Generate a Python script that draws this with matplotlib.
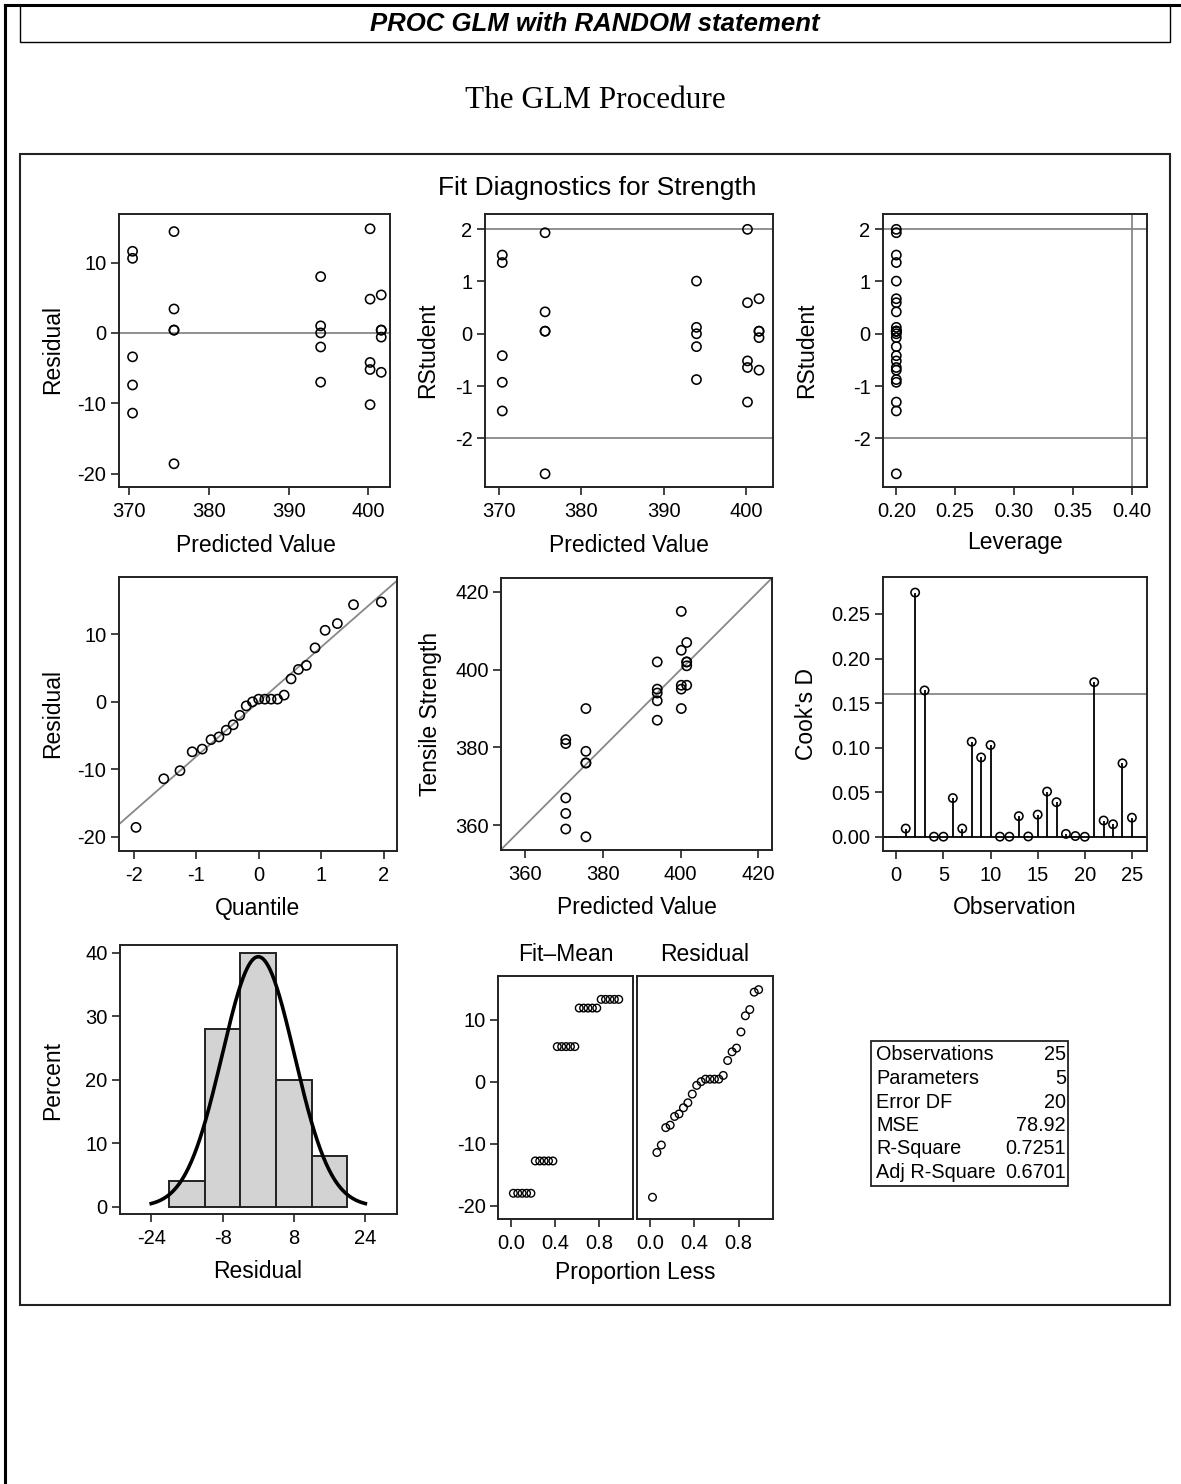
import numpy as np
import matplotlib
matplotlib.use("Agg")
import matplotlib.pyplot as plt
from matplotlib.patches import Rectangle
from matplotlib.lines import Line2D

plt.rcParams['font.family'] = ['Liberation Sans', 'DejaVu Sans']
plt.rcParams['axes.unicode_minus'] = False

# ---------------- data (observation order) ----------------
observation = list(range(1, 26))
strength = [379, 357, 390, 376, 376, 363, 367, 382, 381, 359,
            402, 402, 407, 401, 396, 402, 387, 392, 395, 394,
            415, 405, 396, 390, 395]
predicted = [375.6] * 5 + [370.4] * 5 + [401.6] * 5 + [394.0] * 5 + [400.2] * 5
residual = [3.4, -18.6, 14.4, 0.4, 0.4, -7.4, -3.4, 11.6, 10.6, -11.4,
            0.4, 0.4, 5.4, -0.6, -5.6, 8.0, -7.0, -2.0, 1.0, 0.0,
            14.8, 4.8, -4.2, -10.2, -5.2]
rstudent = [0.419, -2.678, 1.932, 0.049, 0.049, -0.928, -0.419, 1.505, 1.362, -1.476,
            0.049, 0.049, 0.670, -0.074, -0.696, 1.007, -0.876, -0.246, 0.123, 0.0,
            1.997, 0.594, -0.519, -1.306, -0.645]
leverage = [0.2] * 25
cooks_d = [0.0092, 0.2740, 0.1642, 0.0001, 0.0001, 0.0434, 0.0092, 0.1066, 0.0890, 0.1029,
           0.0001, 0.0001, 0.0231, 0.0003, 0.0248, 0.0507, 0.0388, 0.0032, 0.0008, 0.0,
           0.1735, 0.0182, 0.0140, 0.0824, 0.0214]
# normal quantiles (Blom) for the sorted residuals
quantile = [-1.964, -1.519, -1.260, -1.064, -0.903, -0.763, -0.636, -0.519, -0.408,
            -0.302, -0.199, -0.099, 0.0, 0.099, 0.199, 0.302, 0.408, 0.519, 0.636,
            0.763, 0.903, 1.064, 1.260, 1.519, 1.964]
proportion_less = [0.02, 0.06, 0.10, 0.14, 0.18, 0.22, 0.26, 0.30, 0.34, 0.38, 0.42, 0.46,
                   0.50, 0.54, 0.58, 0.62, 0.66, 0.70, 0.74, 0.78, 0.82, 0.86, 0.90, 0.94, 0.98]
hist_centers = [-16, -8, 0, 8, 16]
hist_percent = [4, 28, 40, 20, 8]
hist_binwidth = 8
stat_labels = ["Observations", "Parameters", "Error DF", "MSE", "R-Square", "Adj R-Square"]
stat_values = ["25", "5", "20", "78.92", "0.7251", "0.6701"]
rstudent_limit = 2.0
leverage_limit = 0.4
cooks_limit = 0.16

# ---------------- figure ----------------
W, H = 1181, 1484
fig = plt.figure(figsize=(W / 100, H / 100), dpi=100)
fig.patch.set_facecolor('white')

TICK_FS = 14.5
LABEL_FS = 16.5
GRAY = '#888888'


def fx(x):
    return x / W


def fy(y):
    return 1 - y / H


def add_ax(l, t, r, b):
    ax = fig.add_axes([fx(l), fy(b), (r - l) / W, (b - t) / H])
    for s in ax.spines.values():
        s.set_linewidth(1.4)
        s.set_color('#222222')
    ax.tick_params(direction='out', length=6, width=1.2, labelsize=TICK_FS,
                   colors='#222222', labelcolor='black')
    ax.tick_params(axis='x', pad=5)
    ax.tick_params(axis='y', pad=3)
    return ax


def ftext(x, y, s, **kw):
    kw.setdefault('ha', 'center')
    kw.setdefault('va', 'center')
    fig.text(fx(x), fy(y), s, **kw)


def circles(ax, x, y, s=44, lw=1.15):
    ax.scatter(x, y, s=s, facecolors='none', edgecolors='black', linewidths=lw, zorder=3,
               clip_on=False)


# page frame overlay
bg = fig.add_axes([0, 0, 1, 1])
bg.set_xlim(0, W)
bg.set_ylim(H, 0)
bg.axis('off')
bg.add_line(Line2D([5, W], [5, 5], color='black', lw=2.2))
bg.add_line(Line2D([5, 5], [5, H], color='black', lw=2.2))
bg.add_patch(Rectangle((19.5, 5), 1150.5, 37, fill=False, ec='black', lw=1.0))
bg.add_patch(Rectangle((19.5, 153.5), 1150, 1151.5, fill=False, ec='#222222', lw=1.5))

ftext(595, 24, "PROC GLM with RANDOM statement", fontsize=18.5, fontweight='bold',
      fontstyle='italic')
ftext(595, 100, "The GLM Procedure", fontsize=22.5,
      family=['Liberation Serif', 'DejaVu Serif'])
ftext(597, 188, "Fit Diagnostics for Strength", fontsize=19)

# ---- Row 1, panel 1: residual vs predicted
ax = add_ax(119, 214, 390, 487)
ax.axhline(0, color=GRAY, lw=1.3, zorder=1)
circles(ax, predicted, residual)
ax.set_xlim(368.7, 402.7)
ax.set_ylim(-21.9, 16.9)
ax.set_xticks([370, 380, 390, 400])
ax.set_yticks([-20, -10, 0, 10])
ftext(53, 350, "Residual", fontsize=LABEL_FS, rotation=90)
ftext(256, 545, "Predicted Value", fontsize=LABEL_FS)

# ---- Row 1, panel 2: rstudent vs predicted
ax = add_ax(485, 214, 773, 487)
ax.axhline(rstudent_limit, color=GRAY, lw=1.3, zorder=1)
ax.axhline(-rstudent_limit, color=GRAY, lw=1.3, zorder=1)
circles(ax, predicted, rstudent)
ax.set_xlim(368.3, 403.3)
ax.set_ylim(-2.93, 2.29)
ax.set_xticks([370, 380, 390, 400])
ax.set_yticks([-2, -1, 0, 1, 2])
ftext(428, 350, "RStudent", fontsize=LABEL_FS, rotation=90)
ftext(629, 545, "Predicted Value", fontsize=LABEL_FS)

# ---- Row 1, panel 3: rstudent vs leverage
ax = add_ax(883, 214, 1147, 487)
ax.axhline(rstudent_limit, color=GRAY, lw=1.3, zorder=1)
ax.axhline(-rstudent_limit, color=GRAY, lw=1.3, zorder=1)
ax.axvline(leverage_limit, color=GRAY, lw=1.3, zorder=1)
circles(ax, leverage, rstudent)
ax.set_xlim(0.1887, 0.4128)
ax.set_ylim(-2.93, 2.29)
ax.set_xticks([0.20, 0.25, 0.30, 0.35, 0.40])
ax.set_xticklabels(["0.20", "0.25", "0.30", "0.35", "0.40"])
ax.set_yticks([-2, -1, 0, 1, 2])
ftext(807, 350, "RStudent", fontsize=LABEL_FS, rotation=90)
ftext(1015, 543, "Leverage", fontsize=LABEL_FS)

# ---- Row 2, panel 1: QQ plot
ax = add_ax(119, 577, 397, 851)
sorted_res = np.sort(residual)
ax.axline((0, np.mean(residual)), slope=np.std(residual, ddof=1), color=GRAY, lw=1.3, zorder=1)
circles(ax, quantile, sorted_res)
ax.set_xlim(-2.236, 2.215)
ax.set_ylim(-22.1, 18.5)
ax.set_xticks([-2, -1, 0, 1, 2])
ax.set_yticks([-20, -10, 0, 10])
ftext(53, 714, "Residual", fontsize=LABEL_FS, rotation=90)
ftext(258, 908, "Quantile", fontsize=LABEL_FS)

# ---- Row 2, panel 2: observed vs predicted
ax = add_ax(501, 578, 772, 850)
ax.axline((360, 360), slope=1, color=GRAY, lw=1.3, zorder=1)
circles(ax, predicted, strength)
ax.set_xlim(353.7, 423.6)
ax.set_ylim(353.6, 423.6)
ax.set_xticks([360, 380, 400, 420])
ax.set_yticks([360, 380, 400, 420])
ftext(430, 714, "Tensile Strength", fontsize=LABEL_FS, rotation=90)
ftext(637, 908, "Predicted Value", fontsize=LABEL_FS)

# ---- Row 2, panel 3: Cook's D
ax = add_ax(883, 577, 1147, 851)
ax.axhline(cooks_limit, color=GRAY, lw=1.3, zorder=1)
ax.axhline(0, color='black', lw=1.3, zorder=2)
ax.vlines(observation, 0, cooks_d, color='black', lw=1.3, zorder=2)
circles(ax, observation, cooks_d, s=36)
ax.set_xlim(-1.41, 26.6)
ax.set_ylim(-0.016, 0.2915)
ax.set_xticks([0, 5, 10, 15, 20, 25])
ax.set_yticks([0.0, 0.05, 0.10, 0.15, 0.20, 0.25])
ax.set_yticklabels(["0.00", "0.05", "0.10", "0.15", "0.20", "0.25"])
ftext(807, 714, "Cook's D", fontsize=LABEL_FS, rotation=90)
ftext(1015, 907, "Observation", fontsize=LABEL_FS)

# ---- Row 3, panel 1: histogram
ax = add_ax(120, 945, 397, 1214)
ax.bar(hist_centers, hist_percent, width=hist_binwidth, color='#d3d3d3',
       edgecolor='#222222', linewidth=1.4, zorder=2)
sd = np.std(residual, ddof=1)
xs = np.linspace(-24, 24, 300)
dens = 100 * hist_binwidth * np.exp(-0.5 * (xs / sd) ** 2) / (sd * np.sqrt(2 * np.pi))
ax.plot(xs, dens, color='black', lw=2.6, zorder=3)
ax.set_xlim(-31, 31.1)
ax.set_ylim(-1.15, 41.2)
ax.set_xticks([-24, -8, 8, 24])
ax.set_yticks([0, 10, 20, 30, 40])
ftext(53, 1080, "Percent", fontsize=LABEL_FS, rotation=90)
ftext(258, 1271, "Residual", fontsize=LABEL_FS)

# ---- Row 3, panel 2: residual-fit spread plot
fit_mean = np.sort(np.array(predicted) - np.mean(strength))
axL = add_ax(498, 976, 633, 1219)
axR = add_ax(637, 976, 773, 1219)
circles(axL, proportion_less, fit_mean, s=30, lw=1.0)
circles(axR, proportion_less, sorted_res, s=30, lw=1.0)
for a in (axL, axR):
    a.set_xlim(-0.12, 1.11)
    a.set_ylim(-22.1, 17.0)
    a.set_xticks([0.0, 0.4, 0.8])
    a.set_xticklabels(["0.0", "0.4", "0.8"])
axL.set_yticks([-20, -10, 0, 10])
axR.set_yticks([])
ftext(566, 954, "Fit\u2013Mean", fontsize=LABEL_FS)
ftext(705, 954, "Residual", fontsize=LABEL_FS)
ftext(635, 1273, "Proportion Less", fontsize=LABEL_FS)

# ---- Row 3, panel 3: statistics table
bg.add_patch(Rectangle((870.5, 1041), 197, 145, fill=False, ec='#222222', lw=1.3))
row_y = [1055, 1078.5, 1102, 1125.5, 1149, 1172.5]
for lab, val, yy in zip(stat_labels, stat_values, row_y):
    ftext(876, yy, lab, fontsize=14.3, ha='left')
    ftext(1066, yy, val, fontsize=14.3, ha='right')

fig.savefig("out.png", dpi=100, facecolor='white')
